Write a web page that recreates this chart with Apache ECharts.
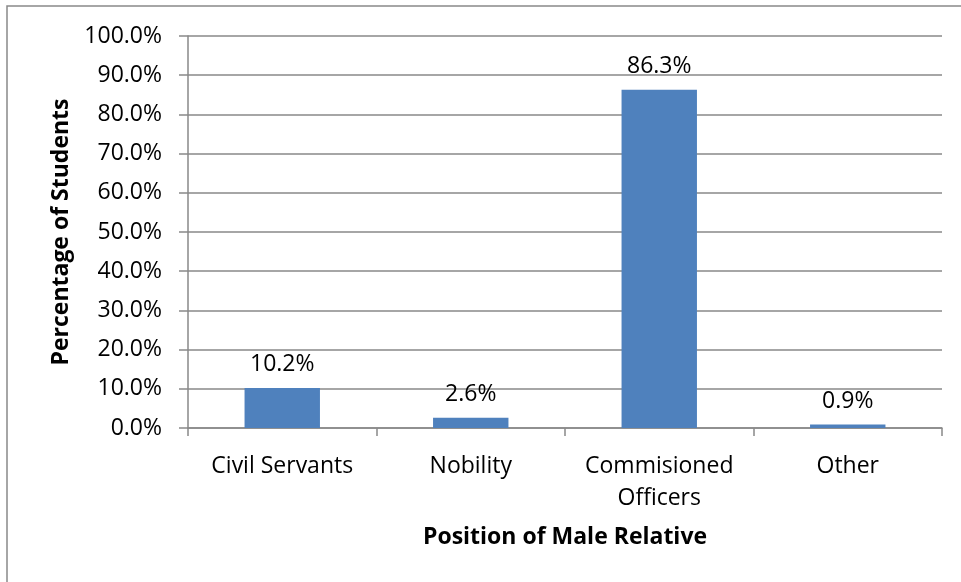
<!DOCTYPE html>
<html>
<head>
<meta charset="utf-8">
<script src="https://cdn.jsdelivr.net/npm/echarts@6/dist/echarts.min.js"></script>
<style>
  html, body { margin: 0; padding: 0; background: #fff; }
  #chart { width: 961px; height: 582px; }
</style>
</head>
<body>
<div id="chart"></div>
<script>
// chart data
const categories = ["Civil Servants", "Nobility", "Commisioned\nOfficers", "Other"];
const shares = [10.2, 2.6, 86.3, 0.9];
const yTicks = [0, 10, 20, 30, 40, 50, 60, 70, 80, 90, 100];

const font = "Open Sans";
const gray = "#898989";

const chart = echarts.init(document.getElementById("chart"));

chart.setOption({
    animation: false,
    backgroundColor: "#fff",
    textStyle: { fontFamily: font },
    graphic: [{
        type: "rect",
        shape: { x: 7, y: 6, width: 1000, height: 1000 },
        style: { fill: "none", stroke: gray, lineWidth: 1.5 },
        silent: true
    }],
    grid: { left: 188, right: 19, top: 36, bottom: 154 },
    xAxis: {
        type: "category",
        data: categories,
        name: "Position of Male Relative",
        nameLocation: "middle",
        nameGap: 98,
        nameTextStyle: { fontFamily: font, fontSize: 23, fontWeight: "bold", color: "#000" },
        axisLine: { lineStyle: { color: gray, width: 1.5 } },
        axisTick: { show: true, alignWithLabel: false, length: 8, lineStyle: { color: gray, width: 1.5 } },
        axisLabel: { fontFamily: font, fontSize: 23, color: "#000", margin: 22, lineHeight: 32, interval: 0 }
    },
    yAxis: {
        type: "value",
        min: yTicks[0],
        max: yTicks[yTicks.length - 1],
        interval: yTicks[1] - yTicks[0],
        name: "Percentage of Students",
        nameLocation: "middle",
        nameGap: 113,
        nameTextStyle: { fontFamily: font, fontSize: 23, fontWeight: "bold", color: "#000" },
        axisLine: { show: true, lineStyle: { color: gray, width: 1.5 } },
        axisTick: { show: true, inside: false, length: 9, lineStyle: { color: gray, width: 1.5 } },
        splitLine: { lineStyle: { color: gray, width: 1.5 } },
        axisLabel: {
            fontFamily: font, fontSize: 23, color: "#000", margin: 26,
            formatter: v => v.toFixed(1) + "%"
        }
    },
    series: [{
        type: "bar",
        data: shares,
        barWidth: "40%",
        itemStyle: { color: "#4F81BD" },
        label: {
            show: true,
            position: "top",
            distance: 12,
            fontFamily: font,
            fontSize: 23,
            color: "#000",
            formatter: p => p.value.toFixed(1) + "%"
        }
    }]
});
</script>
</body>
</html>
